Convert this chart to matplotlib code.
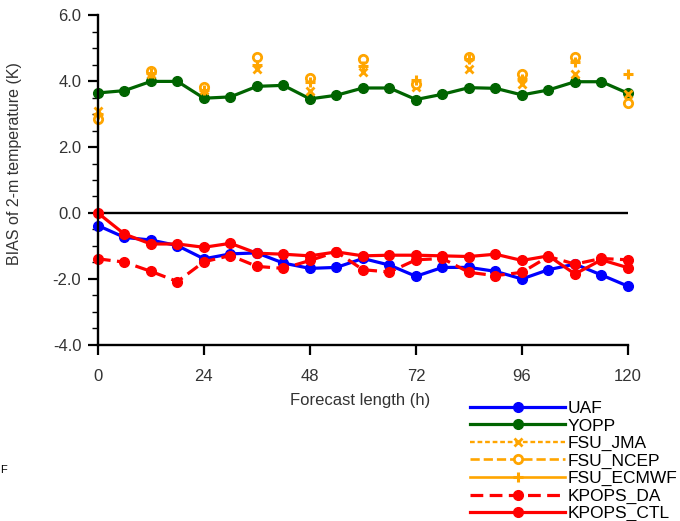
import numpy as np
import matplotlib.pyplot as plt

plt.rcParams['font.family'] = ['Liberation Sans', 'DejaVu Sans']

# forecast hours, every 6 h
hours = np.arange(0, 121, 6)

uaf = [-0.38, -0.74, -0.82, -0.99, -1.39, -1.24, -1.21, -1.52, -1.68, -1.65, -1.38,
       -1.58, -1.92, -1.65, -1.65, -1.77, -2.0, -1.72, -1.55, -1.88, -2.22]
yopp = [3.64, 3.71, 3.99, 3.99, 3.48, 3.52, 3.84, 3.87, 3.46, 3.57, 3.79,
        3.79, 3.44, 3.6, 3.8, 3.78, 3.58, 3.73, 3.98, 3.98, 3.63]
kpops_da = [-1.39, -1.49, -1.77, -2.08, -1.48, -1.29, -1.62, -1.68, -1.44, -1.18, -1.72,
            -1.79, -1.42, -1.38, -1.8, -1.9, -1.8, -1.32, -1.55, -1.38, -1.42]
kpops_ctl = [0.0, -0.64, -0.94, -0.94, -1.04, -0.92, -1.22, -1.25, -1.3, -1.18, -1.3,
             -1.28, -1.28, -1.3, -1.32, -1.25, -1.44, -1.3, -1.85, -1.42, -1.66]

# FSU runs only every 12 h (gaps in between)
fsu_hours = np.arange(0, 121, 12)
fsu_jma = [3.1, 4.2, 3.72, 4.36, 3.7, 4.26, 3.81, 4.36, 3.91, 4.21, 3.6]
fsu_ncep = [2.85, 4.3, 3.82, 4.74, 4.09, 4.67, 3.91, 4.74, 4.21, 4.72, 3.35]
fsu_ecmwf = [3.0, 4.25, 3.72, 4.5, 3.96, 4.46, 4.03, 4.66, 4.06, 4.59, 4.21]


def on_6h(vals):
    # put 12-hourly values on the 6-hourly grid, nan elsewhere
    out = np.full(len(hours), np.nan)
    out[::2] = vals
    return out


fig = plt.figure(figsize=(6.8, 5.21), dpi=100)
ax = fig.add_axes([0.144, 0.338, 0.7795, 0.633])

orange = '#FFA500'
lw = 2.3
ms = 7
lines = []
lines += ax.plot(hours, uaf, color='#0000FF', lw=lw, marker='o', ms=ms, label='UAF', clip_on=False)
lines += ax.plot(hours, yopp, color='#006400', lw=lw, marker='o', ms=ms, label='YOPP', clip_on=False)
lines += ax.plot(hours, on_6h(fsu_jma), color=orange, lw=1.7, ls=(0, (2, 1.2)), marker='x',
                 ms=6, mew=2.0, label='FSU_JMA', clip_on=False)
lines += ax.plot(hours, on_6h(fsu_ncep), color=orange, lw=1.9, ls=(0, (3.5, 1.5)), marker='o',
                 ms=6, mew=2.0, mfc='white', label='FSU_NCEP', clip_on=False)
lines += ax.plot(hours, on_6h(fsu_ecmwf), color=orange, lw=1.9, marker='+',
                 ms=7, mew=2.2, label='FSU_ECMWF', clip_on=False)
lines += ax.plot(hours, kpops_da, color='#FF0000', lw=lw, ls=(0, (4, 2)), marker='o', ms=ms,
                 label='KPOPS_DA', clip_on=False)
lines += ax.plot(hours, kpops_ctl, color='#FF0000', lw=lw, marker='o', ms=ms,
                 label='KPOPS_CTL', clip_on=False)

ax.axhline(0, color='black', lw=1.7, zorder=1)

ax.set_xlim(0, 120)
ax.set_ylim(-4, 6)
ax.set_xticks(np.arange(0, 121, 24))
ax.set_yticks(np.arange(-4, 6.1, 2))
ax.set_yticklabels(['%.1f' % v for v in np.arange(-4, 6.1, 2)])
ax.set_yticks(np.arange(-4, 6.1, 0.5), minor=True)
ax.tick_params(axis='both', direction='out', labelsize=12, width=1.6, length=7,
               colors='black', labelcolor='#333333')
ax.tick_params(axis='y', which='minor', direction='out', length=4, width=1)
ax.tick_params(axis='x', pad=10)
ax.tick_params(axis='y', pad=5)
for s in ['top', 'right']:
    ax.spines[s].set_visible(False)
for s in ['left', 'bottom']:
    ax.spines[s].set_linewidth(1.7)

ax.set_ylabel('BIAS of 2-m temperature (K)', fontsize=11.5, color='#333333')
ax.yaxis.set_label_coords(-0.143, 0.55)
ax.set_xlabel('Forecast length (h)', fontsize=12, color='#333333')
ax.xaxis.set_label_coords(0.494, -0.145)

fig.legend(handles=lines, loc='upper left', bbox_to_anchor=(470 / 680, 1 - 401 / 521),
           frameon=False, fontsize=12.5, handlelength=5.5, handletextpad=0.1,
           labelspacing=0.13, borderpad=0, borderaxespad=0, numpoints=1)

fig.text(0.0, 1 - 470 / 521, 'F', fontsize=8, va='center', ha='left')

plt.savefig('out.png', dpi=100)
